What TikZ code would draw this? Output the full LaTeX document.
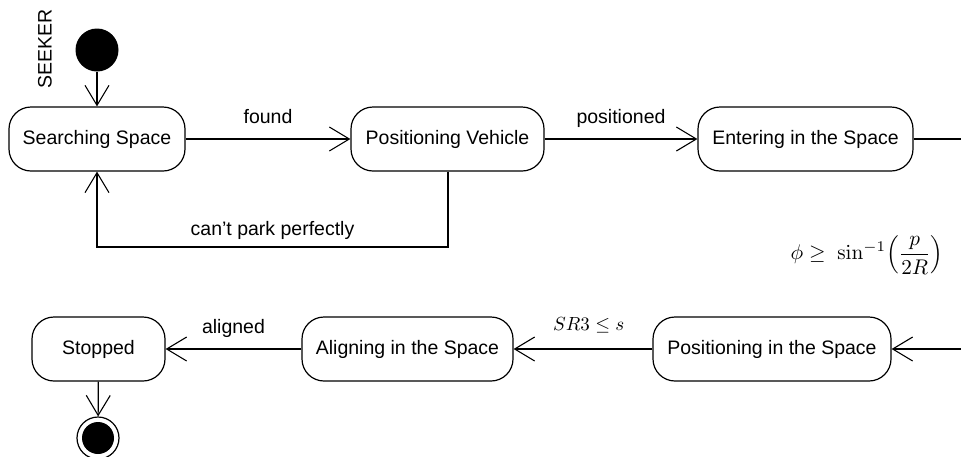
\documentclass[tikz,border=0pt]{standalone}
\usepackage[no-math]{fontspec}
\setmainfont{Liberation Sans}
\usetikzlibrary{arrows.meta}
\begin{document}
\begin{tikzpicture}[x=1pt,y=-1pt,
  line width=1.2pt,
  state/.style={draw, rounded corners=22pt, minimum height=64pt, inner sep=0pt,
    font=\fontsize{19.5}{23}\selectfont},
  lbl/.style={font=\fontsize{19.5}{23}\selectfont, inner sep=0pt, anchor=base},
  mathlbl/.style={inner sep=0pt, transform shape},
  trans/.style={-{Straight Barb[length=20pt,width=24pt,line width=1.1pt]}}
]
\useasboundingbox (0,0) rectangle (961,456);

% start and end pseudo-states
\node (init) [circle, fill=black, minimum size=43pt, inner sep=0pt] at (97,50) {};
\node (fin) [circle, draw, fill=white, line width=1.2pt, minimum size=42pt, inner sep=0pt] at (98,438) {};
\fill (fin.center) circle (16pt);
\node [font=\fontsize{19.5}{23}\selectfont, inner sep=0pt, rotate=90] at (45,49) {SEEKER};

% states
\node (ss)  [state, minimum width=176pt] at (97,139)    {Searching Space};
\node (pv)  [state, minimum width=193pt] at (447.5,139) {Positioning Vehicle};
\node (es)  [state, minimum width=215pt] at (805.5,139) {Entering in the Space};
\node (pis) [state, minimum width=238pt] at (772,349)   {Positioning in the Space};
\node (ais) [state, minimum width=211pt] at (407.5,349) {Aligning in the Space};
\node (st)  [state, minimum width=133pt] at (98.5,349)  {Stopped};

\coordinate (outR) at (961,139);
\coordinate (inR)  at (961,349);

% transitions
\draw[trans] (init) -- (ss);
\draw[trans] (ss) -- node[lbl, yshift=16pt] {found} (pv);
\draw[trans] (pv) -- node[lbl, yshift=16pt] {positioned} (es);
\draw (es) -- (outR);
\draw[trans] (pv.south) ++(0.5,0) coordinate (pvb) -- (pvb |- 0,247) -| node[lbl, pos=0.25, yshift=12pt] {can’t park perfectly} (ss.south);
\draw[trans] (inR) -- (pis);
\draw[trans] (pis) -- node[mathlbl, scale=1.9, anchor=base, yshift=10pt, xshift=3pt] {$SR3 \le s$} (ais);
\draw[trans] (ais) -- node[lbl, yshift=16pt] {aligned} (st);
\draw[trans] (st) -- (fin);

% guard condition
\node (guard) [mathlbl, scale=2.12] at (867,255)
  {$\displaystyle \phi \ge\ \sin^{-1}\!\left(\frac{p}{2R}\right)$};
\end{tikzpicture}
\end{document}
